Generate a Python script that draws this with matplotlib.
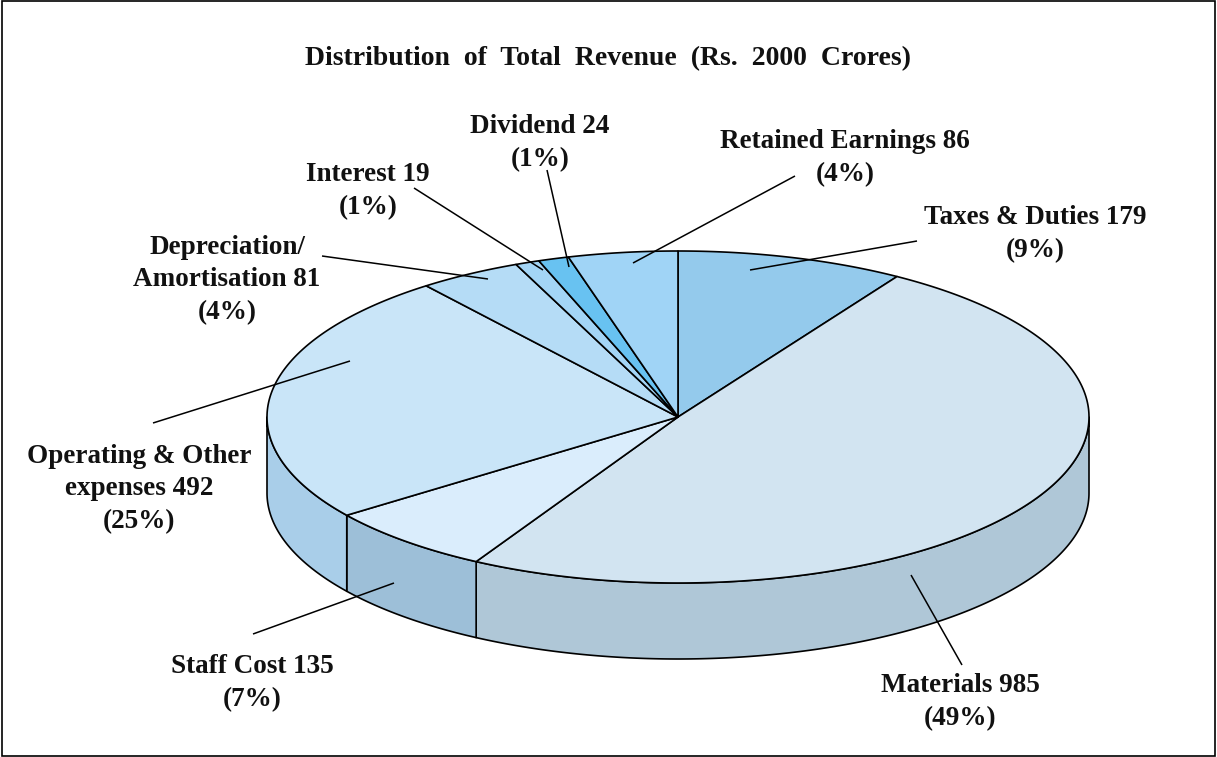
"""Distribuicao da receita total em pizza 3D, desenhada a mao com polygons."""
import numpy as np
import matplotlib
matplotlib.use('Agg')
import matplotlib.pyplot as plt
from matplotlib.patches import Polygon, Rectangle

plt.rcParams['font.family'] = ['Liberation Serif', 'DejaVu Serif']

# dados (sentido horario a partir do topo)
categories = ['Taxes & Duties', 'Materials', 'Staff Cost', 'Operating & Other expenses',
              'Depreciation/Amortisation', 'Interest', 'Dividend', 'Retained Earnings']
values = [179, 985, 135, 492, 81, 19, 24, 86]
title = 'Distribution  of  Total  Revenue  (Rs.  2000  Crores)'
labels = ['Taxes & Duties 179\n(9%)', 'Materials 985\n(49%)', 'Staff Cost 135\n(7%)',
          'Operating & Other\nexpenses 492\n(25%)', 'Depreciation/\nAmortisation 81\n(4%)',
          'Interest 19\n(1%)', 'Dividend 24\n(1%)', 'Retained Earnings 86\n(4%)']

top_colors = ['#94CAEC', '#D2E4F1', '#DAEDFC', '#C9E5F8', '#B5DCF6', '#A3D5F6', '#68C2F1', '#A0D4F6']
side_colors = ['#94B5CC', '#AFC7D7', '#9DBFD8', '#A9CEE9', '#A0C8E0', '#90BFDC', '#5CA8D0', '#90BFDC']

# geometria em pixels da figura
CX, CY, RX, RY, DEPTH = 678, 417, 411, 166, 76
label_pos = [(1035, 234), (960, 702), (252, 683), (139, 489), (227, 280), (368, 191), (540, 143), (845, 158)]
leaders = [((750, 270), (917, 241)), ((911, 575), (962, 665)), ((394, 583), (253, 634)),
           ((350, 361), (153, 423)), ((488, 279), (322, 256)), ((543, 270), (414, 188)),
           ((569, 267), (547, 170)), ((633, 263), (795, 176))]


def ellipse_points(a_start, a_end, dy=0):
    """Pontos do arco da elipse; angulo em graus, horario a partir do topo."""
    a = np.radians(np.linspace(a_start, a_end, max(int(abs(a_end - a_start) * 2), 2)))
    return np.column_stack([CX + RX * np.sin(a), CY - RY * np.cos(a) + dy])


fig = plt.figure(figsize=(12.17, 7.57), dpi=100)
ax = fig.add_axes([0, 0, 1, 1])
ax.set_xlim(0, 1217)
ax.set_ylim(757, 0)
ax.axis('off')

ax.add_patch(Rectangle((2, 1), 1213, 755, fc='white', ec='black', lw=1.2))

edges = np.cumsum([0] + values) / sum(values) * 360

# parede lateral: so a metade da frente aparece
for i in range(len(values)):
    start, end = max(edges[i], 90), min(edges[i + 1], 270)
    if end <= start:
        continue
    upper = ellipse_points(start, end)
    lower = ellipse_points(start, end, DEPTH)
    ax.add_patch(Polygon(np.vstack([upper, lower[::-1]]), closed=True,
                         fc=side_colors[i], ec='black', lw=1.2, joinstyle='round'))

# tampo
for i in range(len(values)):
    arc = ellipse_points(edges[i], edges[i + 1])
    ax.add_patch(Polygon(np.vstack([[CX, CY], arc]), closed=True,
                         fc=top_colors[i], ec='black', lw=1.2, joinstyle='round'))

for (p0, p1) in leaders:
    ax.plot([p0[0], p1[0]], [p0[1], p1[1]], color='black', lw=1.1, solid_capstyle='butt')

ax.text(608, 59, title, ha='center', va='center', fontsize=20, fontweight='bold', color='#111111')
for text, (x, y) in zip(labels, label_pos):
    ax.text(x, y, text, ha='center', va='center', multialignment='center', fontsize=19.5,
            fontweight='bold', color='#111111', linespacing=1.42)

fig.savefig('out.png', dpi=100)
